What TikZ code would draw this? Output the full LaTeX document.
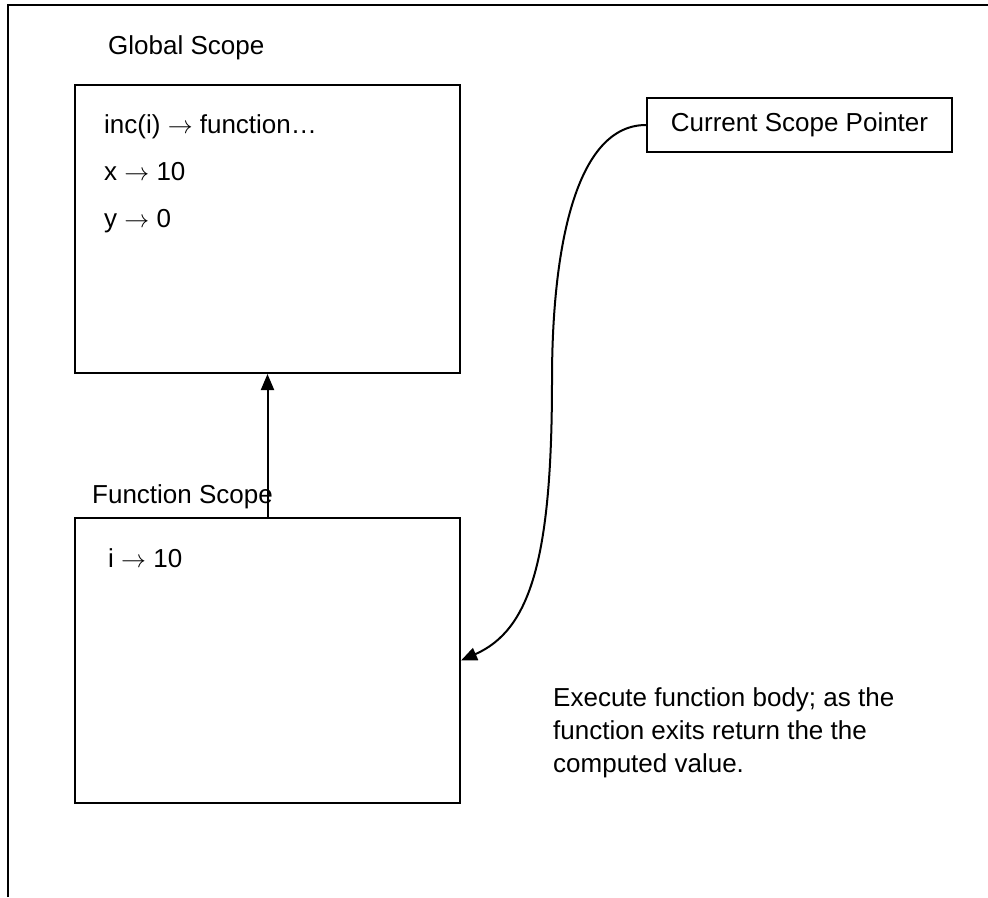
\documentclass[tikz,border=0pt]{standalone}
\usepackage{fontspec}
\setmainfont{Liberation Sans}
\usepackage{tikz}
\usetikzlibrary{arrows.meta}

\begin{document}
\begin{tikzpicture}[x=1pt,y=-1pt,font=\fontsize{26}{33}\selectfont,
   scopebox/.style n args={2}{draw,line width=2pt,minimum width=#1pt,minimum height=#2pt,inner sep=0pt},
   entry/.style={anchor=base west,inner sep=0pt},
   link/.style={line width=2pt,-{Triangle[length=16pt,width=13pt]}}]
\useasboundingbox (0,0) rectangle (988,897);
\draw[line width=2.5pt] (8,897) -- (8,5) -- (988,5);
% scopes
\node[scopebox={385}{288}](glob) at(267.5,229) {};
\node[scopebox={385}{285}](func) at(267.5,660.5) {};
\node[entry](glab) at(108,54) {Global Scope};
\node[entry](flab) at(92,503) {Function Scope};
\foreach \txt [count=\i] in %
{{inc(i) $\rightarrow$ function…},{x $\rightarrow$ 10},{y $\rightarrow$ 0}} {
   \node[entry](g\i) at(104,{133+47*(\i-1)}) {\txt};
}
\node[entry](f1) at(108,567) {i $\rightarrow$ 10};
% pointer
\node[scopebox={305}{54}](ptr) at(799.5,125) {Current Scope Pointer};
\coordinate (bend) at(552,380);
\draw[link] (func.north) -- (glob.south);
\draw[link] (ptr.west) .. controls (575,125) and (552,250) .. (bend)
   .. controls (552,560) and (530,630) .. (func.east);
\node[entry,align=left](note) at(553,772) {Execute function body; as the\\function exits return the the\\computed value.};
\end{tikzpicture}
\end{document}
